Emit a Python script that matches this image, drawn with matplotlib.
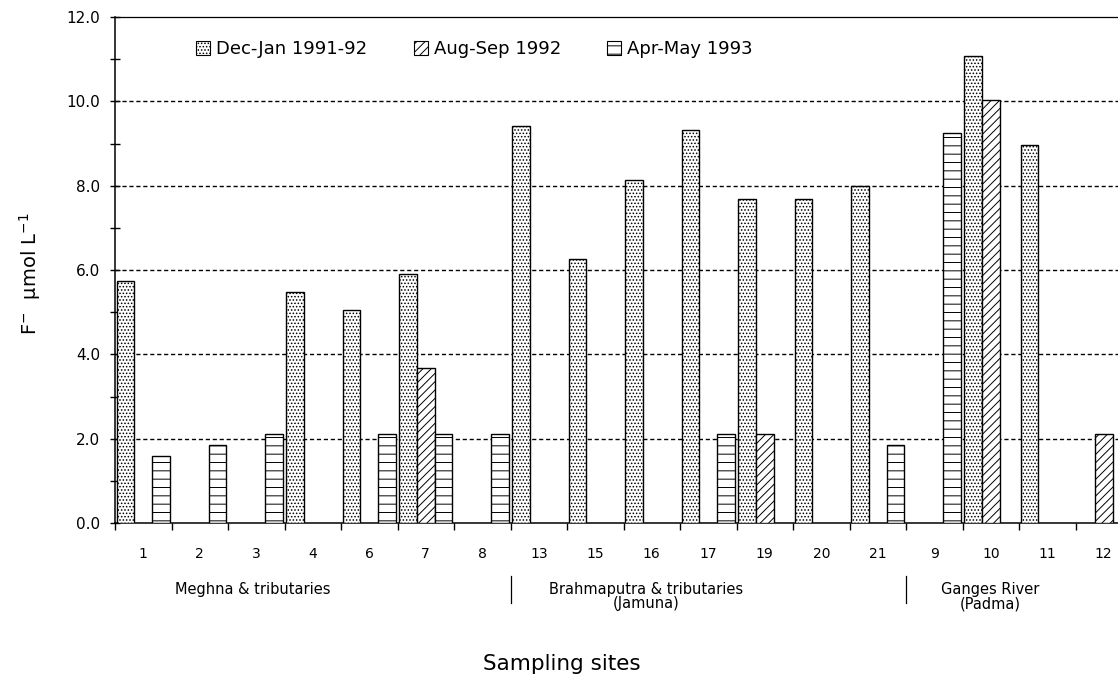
import numpy as np
import matplotlib
matplotlib.use('Agg')
import matplotlib.pyplot as plt
from matplotlib.patches import Patch
from matplotlib.legend import Legend
from matplotlib.ticker import FixedLocator, MultipleLocator

plt.rcParams['font.family'] = ['DejaVu Sans']
plt.rcParams['hatch.linewidth'] = 0.7
plt.rcParams['mathtext.fontset'] = 'dejavusans'

# ---- data ----
sites = ['1', '2', '3', '4', '6', '7', '8', '13', '15', '16', '17', '19', '20', '21',
         '9', '10', '11', '12']
dec_jan = [5.75, 0, 0, 5.47, 5.05, 5.90, 0, 9.42, 6.26, 8.13, 9.31, 7.69, 7.69, 8.00,
           0, 11.08, 8.97, 0]
aug_sep = [0, 0, 0, 0, 0, 3.68, 0, 0, 0, 0, 0, 2.12, 0, 0,
           0, 10.02, 0, 2.12]
apr_may = [1.58, 1.84, 2.10, 0, 2.10, 2.10, 2.10, 0, 0, 0, 2.10, 0, 0, 1.85,
           9.24, 0, 0, 0]
series_names = ['Dec-Jan 1991-92', 'Aug-Sep 1992', 'Apr-May 1993']
group_names = ['Meghna & tributaries', 'Brahmaputra & tributaries\n(Jamuna)',
               'Ganges River\n(Padma)']
y_ticks = [0, 2, 4, 6, 8, 10, 12]

# ---- styling ----
hatches = ['.....', '////', '--']
offsets = [-0.31, 0.0, 0.31]
bar_w = 0.31

W, H = 1118, 677
AX_L, AX_R, AX_B, AX_T = 115, 1118, 523, 17
fig = plt.figure(figsize=(W / 100, H / 100), dpi=100)
ax = fig.add_axes([AX_L / W, 1 - AX_B / H, (AX_R - AX_L) / W, (AX_B - AX_T) / H])


def ax_x(px):
    return (px - AX_L) / (AX_R - AX_L)


def ax_y(py):
    return (AX_B - py) / (AX_B - AX_T)


x = np.arange(len(sites))
for vals, h, off, name in zip([dec_jan, aug_sep, apr_may], hatches, offsets, series_names):
    v = np.array(vals, dtype=float)
    v = np.where(v > 0, v, np.nan)
    ax.bar(x + off, v, width=bar_w, facecolor='white', edgecolor='black',
           hatch=h, linewidth=1.0, zorder=3, label=name)

ax.set_xlim(-0.5, -0.5 + (AX_R - AX_L) / 56.5)
ax.set_ylim(0, 12)

# y axis
ax.yaxis.set_major_locator(FixedLocator(y_ticks))
ax.set_yticklabels([f'{t:.1f}' for t in y_ticks])
ax.yaxis.set_minor_locator(MultipleLocator(1))
ax.tick_params(axis='y', which='both', direction='inout', length=7.5, width=1.0,
               labelsize=11, pad=7)

# x axis: ticks at boundaries, labels at centres
ax.xaxis.set_major_locator(FixedLocator(np.arange(-0.5, len(sites), 1.0)))
ax.xaxis.set_major_formatter(plt.NullFormatter())
ax.xaxis.set_minor_locator(FixedLocator(x))
ax.set_xticklabels(sites, minor=True)
ax.tick_params(axis='x', which='major', direction='out', length=5, width=1.0)
ax.tick_params(axis='x', which='minor', length=0, labelsize=10, pad=17.5)

# grid
for t in y_ticks[1:-1]:
    ax.axhline(t, color='black', linewidth=1.0, linestyle=(0, (3, 2)), zorder=1)

for s in ['left', 'bottom']:
    ax.spines[s].set_linewidth(1.1)
ax.spines['top'].set_linewidth(0.9)
ax.spines['right'].set_visible(False)

# legend entries placed individually
legend_px = [196, 414, 607]
for px, h, name in zip(legend_px, hatches, series_names):
    handle = Patch(facecolor='white', edgecolor='black', hatch=h, linewidth=0.8)
    leg = Legend(ax, [handle], [name], frameon=False, loc='center left',
                 bbox_to_anchor=(ax_x(px), ax_y(49)), bbox_transform=ax.transAxes,
                 borderpad=0, borderaxespad=0,
                 handlelength=0.8, handleheight=0.8, handletextpad=0.3,
                 fontsize=13)
    ax.add_artist(leg)

# group labels and separators
group_px = [253, 646, 990]
for px, name in zip(group_px, group_names):
    ax.text(ax_x(px), ax_y(582), name, transform=ax.transAxes, ha='center',
            va='top', fontsize=10.5, linespacing=0.95)
for bx in [6.5, 13.5]:
    ax.plot([bx, bx], [ax_y(576), ax_y(603)], transform=ax.get_xaxis_transform(),
            color='black', linewidth=0.9, clip_on=False)

ax.text(ax_x(562), ax_y(664), 'Sampling sites', transform=ax.transAxes,
        ha='center', va='center', fontsize=15.5)
ax.text(ax_x(30), ax_y(274), 'F$^{-}$  μmol L$^{-1}$', transform=ax.transAxes,
        ha='center', va='center', rotation=90, fontsize=14)

fig.savefig('out.png', dpi=100)
